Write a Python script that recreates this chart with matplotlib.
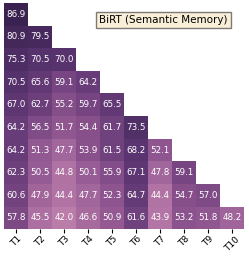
import matplotlib
matplotlib.use('Agg')
import matplotlib.pyplot as plt
import numpy as np
import seaborn as sns
from matplotlib.colors import LinearSegmentedColormap

tasks = ['T1', 'T2', 'T3', 'T4', 'T5', 'T6', 'T7', 'T8', 'T9', 'T10']
rows = [
    [86.9],
    [80.9, 79.5],
    [75.3, 70.5, 70.0],
    [70.5, 65.6, 59.1, 64.2],
    [67.0, 62.7, 55.2, 59.7, 65.5],
    [64.2, 56.5, 51.7, 54.4, 61.7, 73.5],
    [64.2, 51.3, 47.7, 53.9, 61.5, 68.2, 52.1],
    [62.3, 50.5, 44.8, 50.1, 55.9, 67.1, 47.8, 59.1],
    [60.6, 47.9, 44.4, 47.7, 52.3, 64.7, 44.4, 54.7, 57.0],
    [57.8, 45.5, 42.0, 46.6, 50.9, 61.6, 43.9, 53.2, 51.8, 48.2],
]

n = len(tasks)
acc = np.full((n, n), np.nan)
for i, r in enumerate(rows):
    acc[i, :len(r)] = r
mask = np.isnan(acc)

# muted pink -> dark purple
cmap = LinearSegmentedColormap.from_list(
    'birt', [(0.0, '#ba7ca9'), (0.22, '#8f5590'), (0.58, '#5a3470'), (1.0, '#3a2250')])

fig = plt.figure(figsize=(2.49, 2.56), dpi=100)
ax = fig.add_axes([0.016, 0.105, 0.964, 0.883])
sns.heatmap(acc, mask=mask, annot=True, fmt='.1f', cmap=cmap, vmin=42, vmax=87,
            cbar=False, ax=ax, annot_kws={'size': 6.3, 'color': 'white'},
            xticklabels=tasks, yticklabels=False)
ax.set_xticklabels(tasks, rotation=45, fontsize=6.5)
ax.tick_params(axis='x', length=3, pad=1)
ax.text(0.933, 0.925, 'BiRT (Semantic Memory)', transform=ax.transAxes, ha='right', va='center',
        fontsize=7.5, bbox=dict(boxstyle='square,pad=0.3', facecolor='wheat', alpha=0.5))
fig.savefig('out.png', dpi=100)
